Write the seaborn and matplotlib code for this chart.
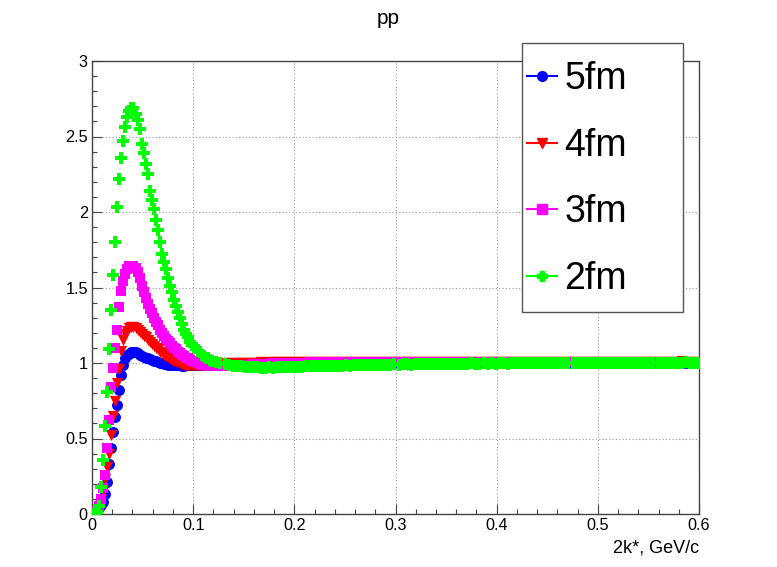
import numpy as np
import pandas as pd
import matplotlib
matplotlib.use("Agg")
import matplotlib.pyplot as plt
import seaborn as sns
from matplotlib.lines import Line2D
from matplotlib.patches import Rectangle
from matplotlib.ticker import MultipleLocator, FuncFormatter

# ---------------- data ----------------
# bin centres: fine binning in the peak region, then the flat tail
k_fine = np.round(np.arange(0.001, 0.1199, 0.002), 3)      # 60 bins
k_tail = np.round(np.arange(0.123, 0.5991, 0.004), 3)      # 120 bins

labels = ["5fm", "4fm", "3fm", "2fm"]
colors = ["#0000ff", "#ff0000", "#ff00ff", "#00ff00"]
markers = ["o", "v", "s", "P"]

c5_fine = [0.00, 0.01, 0.02, 0.04, 0.06, 0.08, 0.13, 0.21, 0.33, 0.44,
           0.545, 0.645, 0.72, 0.82, 0.92, 0.99, 1.03, 1.05, 1.06, 1.07,
           1.07, 1.07, 1.065, 1.055, 1.045, 1.04, 1.035, 1.03, 1.025, 1.02,
           1.015, 1.01, 1.005, 1.0, 0.997, 0.994, 0.991, 0.989, 0.987, 0.986,
           0.985, 0.985, 0.984, 0.984, 0.983, 0.983, 0.984, 0.984, 0.985, 0.985,
           0.986, 0.986, 0.987, 0.987, 0.988, 0.988, 0.989, 0.989, 0.990, 0.991]
c4_fine = [0.00, 0.01, 0.02, 0.05, 0.09, 0.15, 0.23, 0.31, 0.40, 0.52,
           0.65, 0.75, 0.87, 0.96, 1.08, 1.15, 1.19, 1.21, 1.23, 1.24,
           1.24, 1.235, 1.22, 1.205, 1.19, 1.18, 1.17, 1.155, 1.14, 1.125,
           1.11, 1.10, 1.09, 1.075, 1.065, 1.055, 1.045, 1.04, 1.03, 1.02,
           1.015, 1.01, 1.005, 1.0, 0.995, 0.99, 0.988, 0.986, 0.985, 0.984,
           0.984, 0.985, 0.986, 0.987, 0.988, 0.99, 0.99, 0.992, 0.993, 0.994]
c3_fine = [0.00, 0.01, 0.02, 0.05, 0.10, 0.17, 0.26, 0.44, 0.62, 0.84,
           0.97, 1.10, 1.22, 1.37, 1.48, 1.54, 1.59, 1.62, 1.64, 1.645,
           1.645, 1.63, 1.60, 1.56, 1.51, 1.47, 1.43, 1.39, 1.36, 1.33,
           1.30, 1.27, 1.25, 1.22, 1.20, 1.18, 1.16, 1.145, 1.13, 1.115,
           1.10, 1.09, 1.075, 1.065, 1.055, 1.045, 1.035, 1.03, 1.02, 1.015,
           1.01, 1.005, 1.0, 0.995, 0.99, 0.988, 0.985, 0.983, 0.982, 0.981]
c2_fine = [0.00, 0.00, 0.01, 0.05, 0.18, 0.36, 0.58, 0.81, 1.09, 1.35,
           1.58, 1.80, 2.03, 2.22, 2.36, 2.47, 2.56, 2.63, 2.67, 2.69,
           2.69, 2.65, 2.61, 2.55, 2.45, 2.39, 2.32, 2.25, 2.14, 2.08,
           2.02, 1.95, 1.88, 1.80, 1.72, 1.67, 1.62, 1.56, 1.51, 1.47,
           1.42, 1.38, 1.34, 1.30, 1.26, 1.22, 1.19, 1.17, 1.14, 1.12,
           1.11, 1.10, 1.08, 1.07, 1.055, 1.045, 1.035, 1.03, 1.02, 1.015]

c5_tail = [0.992, 0.993, 0.994, 0.995, 0.996, 0.997, 0.998, 0.999, 1.000, 0.999,
           1.000, 1.001, 1.000, 1.002, 1.001, 1.000, 1.002, 1.001, 1.003, 1.002,
           1.001, 1.003, 1.002, 1.001, 1.003, 1.002, 1.004, 1.002, 1.001, 1.003,
           1.002, 1.003, 1.001, 1.002, 1.004, 1.003, 1.002, 1.001, 1.003, 1.002,
           1.003, 1.002, 1.004, 1.002, 1.001, 1.003, 1.002, 1.003, 1.001, 1.002,
           1.004, 1.003, 1.002, 1.001, 1.003, 1.002, 1.003, 1.002, 1.004, 1.002,
           1.001, 1.003, 1.002, 1.003, 1.001, 1.002, 1.004, 1.003, 1.002, 1.001,
           1.003, 1.002, 1.003, 1.002, 1.004, 1.002, 1.001, 1.003, 1.002, 1.003,
           1.001, 1.002, 1.004, 1.003, 1.002, 1.001, 1.003, 1.002, 1.003, 1.002,
           1.004, 1.002, 1.001, 1.003, 1.002, 1.003, 1.001, 1.002, 1.004, 1.003,
           1.002, 1.001, 1.003, 1.002, 1.003, 1.002, 1.004, 1.002, 1.001, 1.003,
           1.002, 1.003, 1.001, 1.002, 1.004, 1.003, 1.002, 1.001, 1.003, 1.002]
c4_tail = [0.995, 0.996, 0.997, 0.998, 0.999, 1.000, 1.000, 1.001, 1.002, 1.001,
           1.003, 1.004, 1.003, 1.005, 1.004, 1.006, 1.005, 1.007, 1.006, 1.005,
           1.007, 1.006, 1.008, 1.007, 1.006, 1.008, 1.007, 1.006, 1.008, 1.007,
           1.005, 1.007, 1.006, 1.008, 1.007, 1.006, 1.005, 1.007, 1.006, 1.008,
           1.007, 1.006, 1.005, 1.007, 1.006, 1.005, 1.007, 1.008, 1.006, 1.005,
           1.007, 1.006, 1.005, 1.007, 1.006, 1.008, 1.006, 1.005, 1.007, 1.006,
           1.005, 1.007, 1.006, 1.005, 1.007, 1.006, 1.008, 1.006, 1.005, 1.007,
           1.006, 1.005, 1.006, 1.008, 1.007, 1.005, 1.006, 1.007, 1.005, 1.006,
           1.008, 1.006, 1.005, 1.007, 1.006, 1.005, 1.007, 1.009, 1.006, 1.005,
           1.007, 1.006, 1.005, 1.007, 1.006, 1.008, 1.006, 1.005, 1.007, 1.006,
           1.005, 1.007, 1.006, 1.008, 1.006, 1.005, 1.007, 1.006, 1.009, 1.006,
           1.005, 1.007, 1.006, 1.005, 1.007, 1.010, 1.006, 1.005, 1.007, 1.006]
c3_tail = [0.980, 0.981, 0.982, 0.983, 0.985, 0.986, 0.987, 0.989, 0.990, 0.991,
           0.993, 0.994, 0.995, 0.996, 0.997, 0.998, 0.999, 1.000, 1.001, 1.000,
           1.002, 1.003, 1.002, 1.004, 1.003, 1.005, 1.004, 1.003, 1.005, 1.006,
           1.004, 1.005, 1.006, 1.004, 1.005, 1.007, 1.005, 1.004, 1.006, 1.005,
           1.004, 1.006, 1.005, 1.003, 1.005, 1.006, 1.004, 1.005, 1.007, 1.005,
           1.004, 1.006, 1.005, 1.004, 1.003, 1.005, 1.006, 1.004, 1.005, 1.004,
           1.006, 1.005, 1.003, 1.005, 1.004, 1.006, 1.005, 1.004, 1.005, 1.003,
           1.005, 1.004, 1.006, 1.005, 1.003, 1.004, 1.006, 1.005, 1.004, 1.005,
           1.003, 1.005, 1.004, 1.006, 1.005, 1.004, 1.003, 1.005, 1.006, 1.004,
           1.005, 1.004, 1.003, 1.005, 1.006, 1.004, 1.005, 1.003, 1.004, 1.006,
           1.005, 1.004, 1.005, 1.003, 1.004, 1.006, 1.005, 1.004, 1.003, 1.005,
           1.004, 1.006, 1.005, 1.004, 1.005, 1.003, 1.004, 1.006, 1.005, 1.007]
c2_tail = [1.005, 0.998, 0.991, 0.986, 0.982, 0.979, 0.977, 0.975, 0.973, 0.972,
           0.971, 0.970, 0.970, 0.971, 0.970, 0.972, 0.971, 0.973, 0.974, 0.975,
           0.976, 0.975, 0.977, 0.978, 0.977, 0.979, 0.980, 0.979, 0.981, 0.982,
           0.981, 0.983, 0.984, 0.983, 0.985, 0.986, 0.985, 0.987, 0.988, 0.987,
           0.989, 0.988, 0.990, 0.989, 0.991, 0.990, 0.992, 0.991, 0.990, 0.992,
           0.993, 0.992, 0.994, 0.993, 0.992, 0.994, 0.995, 0.994, 0.993, 0.995,
           0.996, 0.994, 0.995, 0.997, 0.996, 0.995, 0.997, 0.996, 0.998, 0.996,
           0.997, 0.998, 0.996, 0.998, 0.997, 0.999, 0.998, 0.997, 0.999, 0.998,
           1.000, 0.998, 0.999, 1.001, 0.999, 0.998, 1.000, 0.999, 1.001, 1.000,
           0.999, 1.001, 1.000, 1.002, 1.000, 0.999, 1.001, 1.000, 1.002, 1.001,
           1.000, 1.002, 1.001, 1.003, 1.001, 1.000, 1.002, 1.001, 1.003, 1.002,
           1.001, 1.003, 1.002, 1.001, 1.003, 1.002, 1.004, 1.002, 1.001, 1.003]

series_fine = [c5_fine, c4_fine, c3_fine, c2_fine]
series_tail = [c5_tail, c4_tail, c3_tail, c2_tail]
marker_sizes = [62, 66, 52, 85]

# ---------------- figure ----------------
plt.rcParams["font.family"] = ["Liberation Sans", "DejaVu Sans"]
W, H = 777, 567
fig = plt.figure(figsize=(W / 100, H / 100), dpi=100)
ax = fig.add_axes([92 / W, 1 - 514 / H, 607 / W, 453 / H])

frames = []
for lab, yf, yt in zip(labels, series_fine, series_tail):
    frames.append(pd.DataFrame({"k": np.concatenate([k_fine, k_tail]),
                                "C": np.concatenate([yf, yt]),
                                "R": lab}))
df = pd.concat(frames, ignore_index=True)

for lab, col, mk, s in zip(labels, colors, markers, marker_sizes):
    sns.scatterplot(data=df[df["R"] == lab], x="k", y="C", color=col,
                    marker=mk, s=s, linewidth=0, legend=False, ax=ax,
                    zorder=3)

ax.set_xlim(0, 0.6)
ax.set_ylim(0, 3)
ax.set_xlabel("")
ax.set_ylabel("")

ax.xaxis.set_major_locator(MultipleLocator(0.1))
ax.xaxis.set_minor_locator(MultipleLocator(0.02))
ax.yaxis.set_major_locator(MultipleLocator(0.5))
ax.yaxis.set_minor_locator(MultipleLocator(0.1))
fmt = FuncFormatter(lambda v, p: "%g" % round(v, 3))
ax.xaxis.set_major_formatter(fmt)
ax.yaxis.set_major_formatter(fmt)

spine_col = "#444444"
for sp in ax.spines.values():
    sp.set_color(spine_col)
    sp.set_linewidth(1.0)
ax.tick_params(which="both", direction="in", colors=spine_col,
               top=False, right=False, labelsize=11.7, labelcolor="black")
ax.tick_params(which="major", length=7.2, width=0.8, pad=3)
ax.tick_params(which="minor", length=3.6, width=0.8)
ax.grid(True, which="major", color="#9a9a9a", linestyle=(0, (1, 2)),
        linewidth=0.8, zorder=0)
ax.set_axisbelow(True)

fig.text(0.5, 1 - 18 / H, "pp", ha="center", va="center", fontsize=15)
fig.text(699 / W, 1 - 548 / H, "2k*, GeV/c", ha="right", va="center",
         fontsize=13)

# legend box (ROOT-style TLegend)
fig.patches.append(Rectangle((522 / W, 1 - 312 / H), 161 / W, 269 / H,
                             transform=fig.transFigure, facecolor="white",
                             edgecolor="#555555", linewidth=1.0, zorder=5))
handles = [Line2D([0], [0], color=c, marker=m, lw=1.5, markersize=7)
           for c, m in zip(colors, markers)]
leg = fig.legend(handles, labels, loc="upper left",
                 bbox_to_anchor=(527 / W, 1 - 61 / H),
                 bbox_transform=fig.transFigure, frameon=False,
                 fontsize=27, handlelength=0.8, handletextpad=0.2,
                 labelspacing=0.82, borderpad=0, borderaxespad=0)
leg.set_zorder(6)

fig.savefig("out.png", dpi=100, facecolor="white")
